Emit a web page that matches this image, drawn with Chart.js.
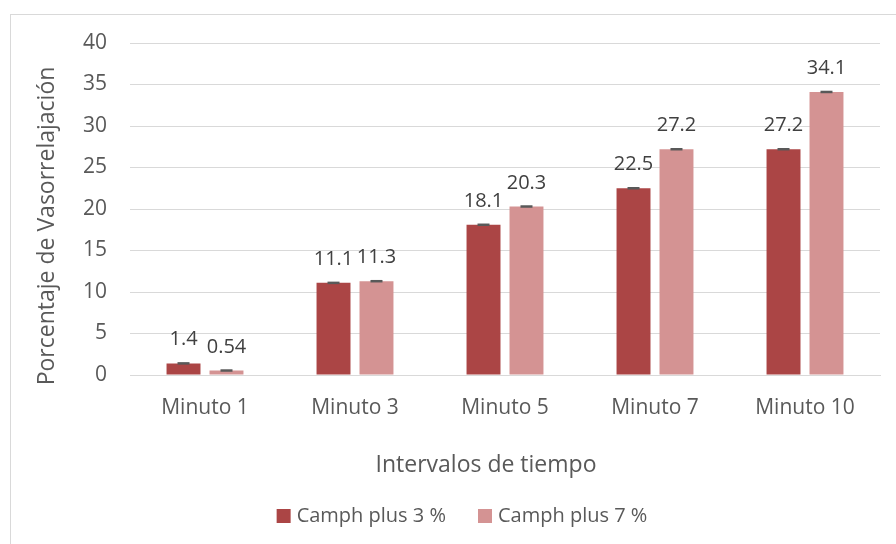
<!DOCTYPE html>
<html>
<head>
<meta charset="utf-8">
<script src="https://cdn.jsdelivr.net/npm/chart.js@4.4.0/dist/chart.umd.min.js"></script>
<style>
  html, body { margin: 0; padding: 0; background: #fff; }
  #wrap { width: 896px; height: 544px; position: relative; }
</style>
</head>
<body>
<div id="wrap"><canvas id="barCanvas" width="896" height="544"></canvas></div>
<script>
const categories = ['Minuto 1', 'Minuto 3', 'Minuto 5', 'Minuto 7', 'Minuto 10'];
const camph3 = [1.4, 11.1, 18.1, 22.5, 27.2];
const camph7 = [0.54, 11.3, 20.3, 27.2, 34.1];
const camph3Labels = ['1.4', '11.1', '18.1', '22.5', '27.2'];
const camph7Labels = ['0.54', '11.3', '20.3', '27.2', '34.1'];
const yTicks = [0, 5, 10, 15, 20, 25, 30, 35, 40];
const xTitle = 'Intervalos de tiempo';
const yTitle = 'Porcentaje de Vasorrelajación';

const FONT = '"Open Sans", sans-serif';
const TEXT = '#595959';

// frame, axis titles and legend, placed like the office chart
const decorPlugin = {
    id: 'decor',
    beforeDraw(chart) {
        const ctx = chart.ctx;
        ctx.save();
        ctx.strokeStyle = '#d9d9d9';
        ctx.lineWidth = 1;
        ctx.strokeRect(10.5, 14.5, 1000, 1000);
        ctx.restore();
    },
    afterDraw(chart) {
        const ctx = chart.ctx;
        ctx.save();
        ctx.fillStyle = TEXT;
        ctx.font = '23px ' + FONT;
        ctx.textAlign = 'center';
        ctx.textBaseline = 'alphabetic';
        ctx.fillText(xTitle, 486, 472);

        ctx.translate(54, 226);
        ctx.rotate(-Math.PI / 2);
        ctx.fillText(yTitle, 0, 0);
        ctx.restore();

        // legend
        ctx.save();
        ctx.font = '20px ' + FONT;
        ctx.textBaseline = 'alphabetic';
        ctx.textAlign = 'left';
        const box = 14, gapText = 6, gapItem = 32;
        const items = chart.data.datasets.map(ds => ({
            text: ds.label, color: ds.backgroundColor,
            w: box + gapText + ctx.measureText(ds.label).width
        }));
        const total = items.reduce((s, it) => s + it.w, 0) + gapItem * (items.length - 1);
        let x = 462 - total / 2;
        items.forEach(it => {
            ctx.fillStyle = it.color;
            ctx.fillRect(x, 509, box, box);
            ctx.fillStyle = TEXT;
            ctx.fillText(it.text, x + box + gapText, 522);
            x += it.w + gapItem;
        });
        ctx.restore();
    }
};

// small error caps and value labels above each bar
const labelPlugin = {
    id: 'barLabels',
    afterDatasetsDraw(chart) {
        const ctx = chart.ctx;
        const labels = [camph3Labels, camph7Labels];
        chart.data.datasets.forEach((ds, i) => {
            const meta = chart.getDatasetMeta(i);
            meta.data.forEach((bar, j) => {
                ctx.save();
                ctx.strokeStyle = '#595959';
                ctx.lineWidth = 2.5;
                ctx.beginPath();
                ctx.moveTo(bar.x - 6, bar.y);
                ctx.lineTo(bar.x + 6, bar.y);
                ctx.stroke();
                ctx.fillStyle = '#404040';
                ctx.font = '20px ' + FONT;
                ctx.textAlign = 'center';
                ctx.textBaseline = 'alphabetic';
                ctx.fillText(labels[i][j], bar.x, bar.y - 18);
                ctx.restore();
            });
        });
    }
};

const data = {
    labels: categories,
    datasets: [
        {
            label: 'Camph plus 3 %',
            data: camph3,
            backgroundColor: '#ab4545',
            categoryPercentage: 0.573,
            barPercentage: 0.79
        },
        {
            label: 'Camph plus 7 %',
            data: camph7,
            backgroundColor: '#d49393',
            categoryPercentage: 0.573,
            barPercentage: 0.79
        }
    ]
};

const options = {
    responsive: false,
    animation: false,
    layout: { padding: { top: 43, right: 16, bottom: 0, left: 0 } },
    plugins: {
        legend: { display: false },
        tooltip: { enabled: false }
    },
    scales: {
        x: {
            grid: { display: false },
            border: { display: true, color: '#d9d9d9' },
            ticks: { color: TEXT, padding: 12, font: { family: FONT, size: 21 } },
            afterFit(scale) { scale.height = 169; }
        },
        y: {
            min: 0,
            max: 40,
            afterBuildTicks(scale) { scale.ticks = yTicks.map(v => ({ value: v })); },
            grid: { color: '#d9d9d9', drawTicks: false },
            border: { display: false },
            ticks: { color: TEXT, padding: 23, font: { family: FONT, size: 21 } },
            afterFit(scale) { scale.width = 130; }
        }
    }
};

new Chart(document.getElementById('barCanvas'), {
    type: 'bar',
    data,
    options,
    plugins: [decorPlugin, labelPlugin]
});
</script>
</body>
</html>
